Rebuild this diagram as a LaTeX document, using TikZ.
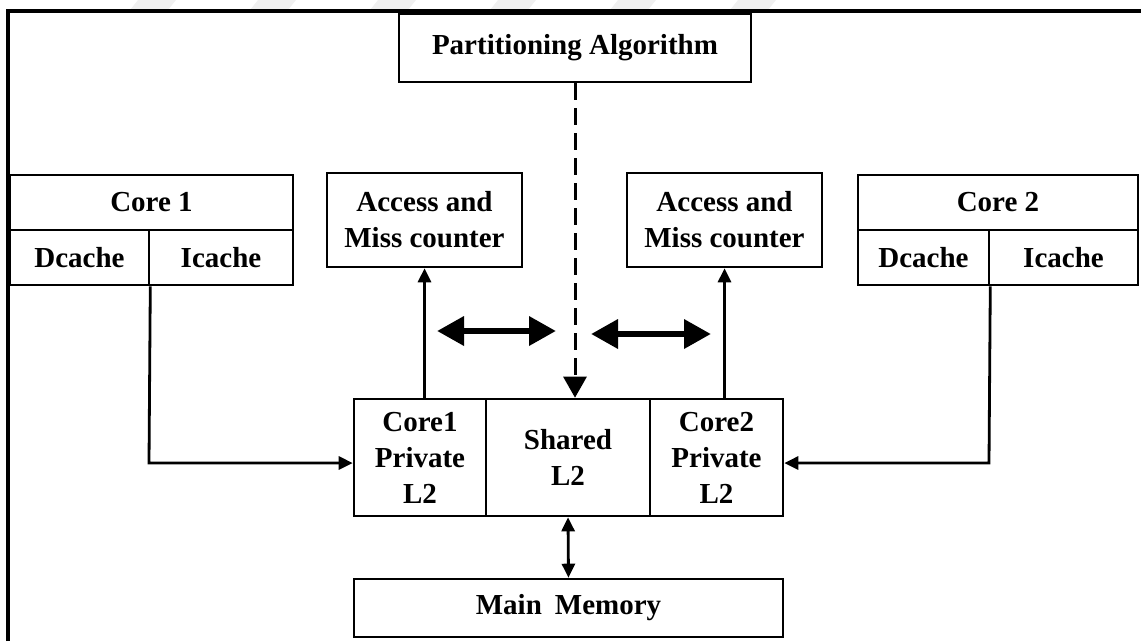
\documentclass[tikz,border=0pt]{standalone}
\usepackage{fontspec}
\setmainfont{Liberation Serif}
\usetikzlibrary{arrows.meta}

\tikzset{
  box/.style={draw, line width=2.6pt, inner sep=0pt, align=center,
              font=\bfseries\fontsize{29}{36}\selectfont},
  conn/.style={line width=2.8pt, -{Triangle[length=14pt,width=13pt]}},
  biconn/.style={line width=2.8pt, {Triangle[length=14pt,width=13pt]}-{Triangle[length=14pt,width=13pt]}},
  fat/.style={line width=6.5pt, {Triangle[length=27pt,width=28pt]}-{Triangle[length=27pt,width=28pt]}},
  dashconn/.style={line width=3pt, dash pattern=on 17pt off 8pt,
                   -{Triangle[length=21pt,width=23pt]}},
  faint/.style={fill=black!6, draw=none}
}

\begin{document}
\begin{tikzpicture}[x=1pt,y=-1pt]
  \useasboundingbox (0,0) rectangle (1141,641);

  % faint marks in the top margin
  \foreach \x in {130,250,370,490,610,730} {
    \fill[faint] (\x,10) -- (\x+38,10) -- (\x+46,0) -- (\x+8,0) -- cycle;
  }

  % outer frame (left and top edges)
  \draw[line width=3.6pt] (8,641) -- (8,11) -- (1141,11);

  % partitioning algorithm
  \node[box, minimum width=352pt, minimum height=68pt] (part) at (575,48) {Partitioning Algorithm};

  % core 1
  \node[box, minimum width=283pt, minimum height=55pt] (c1) at (151.5,202.5) {Core 1};
  \node[box, minimum width=139pt, minimum height=55pt] (c1d) at (79.5,257.5) {Dcache};
  \node[box, minimum width=144pt, minimum height=55pt] (c1i) at (221,257.5) {Icache};

  % core 2
  \node[box, minimum width=280pt, minimum height=55pt] (c2) at (998,202.5) {Core 2};
  \node[box, minimum width=131pt, minimum height=55pt] (c2d) at (923.5,257.5) {Dcache};
  \node[box, minimum width=149pt, minimum height=55pt] (c2i) at (1063.5,257.5) {Icache};

  % access and miss counters
  \node[box, minimum width=195pt, minimum height=94pt] (acc1) at (424.5,220) {Access and\\Miss counter};
  \node[box, minimum width=195pt, minimum height=94pt] (acc2) at (724.5,220) {Access and\\Miss counter};

  % L2 cache partitions
  \node[box, minimum width=132pt, minimum height=117pt] (p1) at (420,457.5) {Core1\\Private\\L2};
  \node[box, minimum width=164pt, minimum height=117pt] (sh) at (568,457.5) {Shared\\L2};
  \node[box, minimum width=133pt, minimum height=117pt] (p2) at (716.5,457.5) {Core2\\Private\\L2};

  % main memory
  \node[box, minimum width=429pt, minimum height=58pt] (mem) at (568.5,608) {Main\hspace{0.45em}Memory};

  % core links into the private partitions
  \coordinate (j1) at (149,463);
  \coordinate (j2) at (989,463);
  \draw[conn] (c1d.south east) -- (j1) -- (p1.west |- j1);
  \draw[conn] (c2d.south east) -- (j2) -- (p2.east |- j2);

  % counter feeds
  \draw[conn] (p1.north -| acc1.south) -- (acc1.south);
  \draw[conn] (p2.north -| acc2.south) -- (acc2.south);

  % partition control
  \draw[dashconn] (part.south) -- (part.south |- sh.north);

  % exchange between partitions
  \coordinate (la) at (437,331);
  \coordinate (lb) at (556,331);
  \coordinate (ra) at (591,334);
  \coordinate (rb) at (711,334);
  \draw[fat] (la) -- (lb);
  \draw[fat] (ra) -- (rb);

  % memory link
  \draw[biconn] (sh.south) -- (mem.north);
\end{tikzpicture}
\end{document}
